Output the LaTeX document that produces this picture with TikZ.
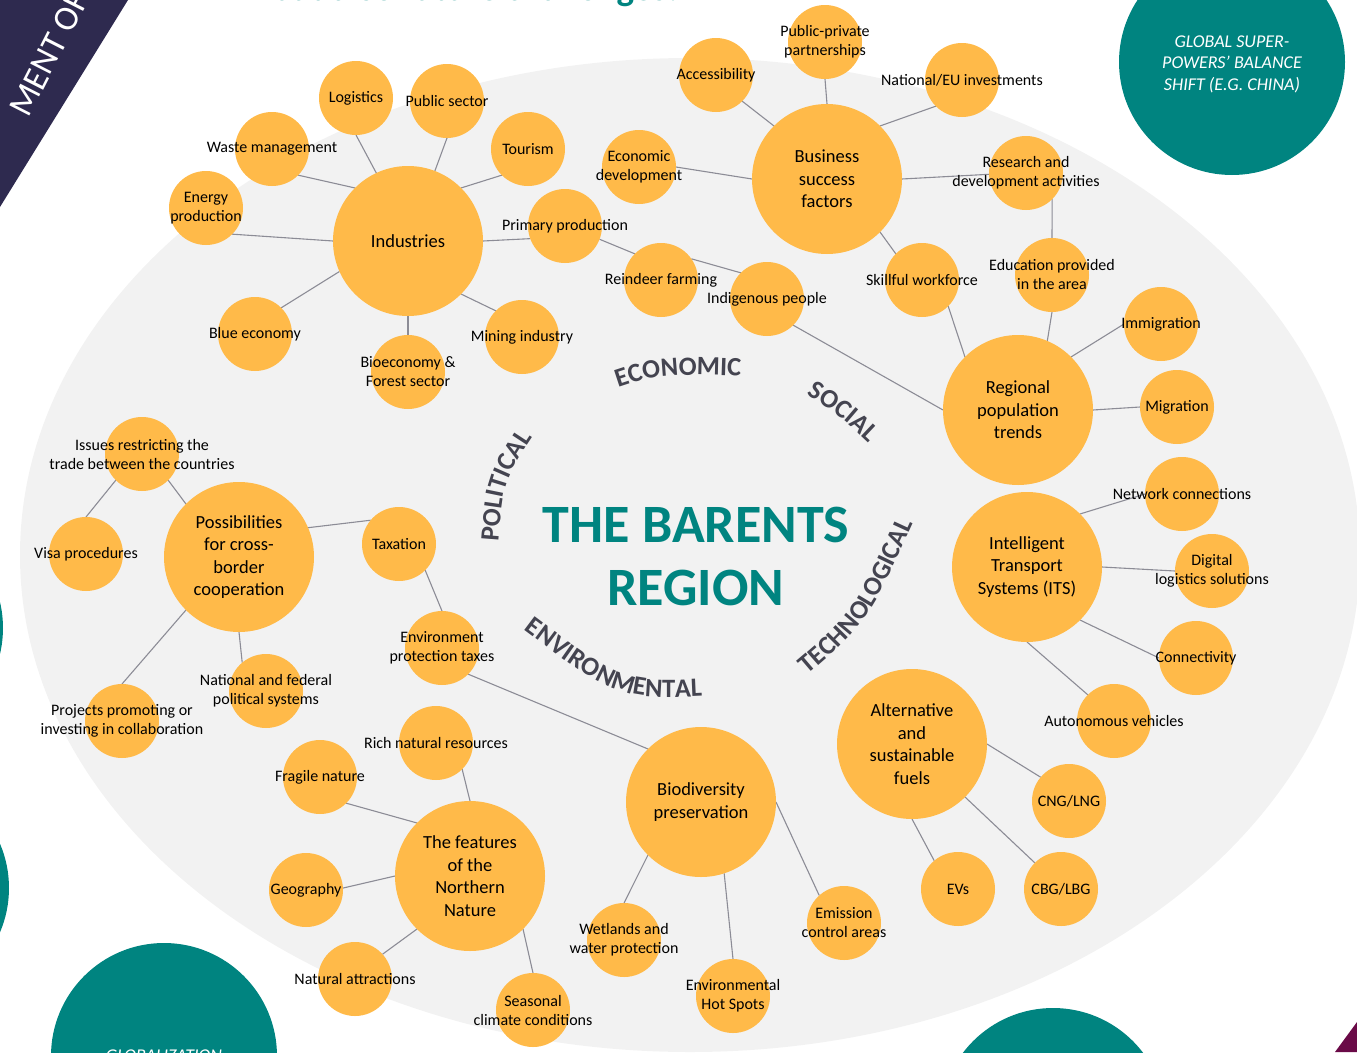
\documentclass[tikz,border=0pt]{standalone}
\usepackage{fontspec}
\setmainfont{Carlito}
\usetikzlibrary{decorations.text}
\definecolor{orng}{RGB}{255,186,73}
\definecolor{teal2}{RGB}{0,132,128}
\definecolor{bgray}{RGB}{242,242,242}
\definecolor{lgray}{RGB}{140,140,150}
\definecolor{navy}{RGB}{46,42,79}
\definecolor{magen}{RGB}{106,10,71}
\definecolor{dimc}{RGB}{68,68,80}
\pgfdeclarelayer{bg}\pgfdeclarelayer{edges}\pgfsetlayers{bg,edges,main}
\newcommand\dimfont{\fontsize{26.5}{26.5}\selectfont\bfseries\color{dimc}}
\tikzset{
 big/.style={circle, fill=orng, minimum size=150pt, inner sep=0pt, outer sep=0pt},
 sm/.style={circle, fill=orng, minimum size=74pt, inner sep=0pt, outer sep=0pt},
 bl/.style={font=\fontsize{18.5}{22.5}\selectfont, align=center, text=black, inner sep=0pt},
 sl/.style={font=\fontsize{16}{19}\selectfont, align=center, text=black, inner sep=0pt},
 link/.style={draw=lgray, line width=1.1pt},
 dimword/.style={decorate, decoration={text along path, text align=center}},
}
\begin{document}
\begin{tikzpicture}[x={(1pt,0)},y={(0,-1pt)}]
\useasboundingbox (0,0) rectangle (1357,1052);
\begin{pgfonlayer}{bg}
\clip (0,0) rectangle (1357,1052);
\fill[bgray] (690,555) ellipse [x radius=670, y radius=497];
\end{pgfonlayer}
\begin{scope}
\clip (0,0) rectangle (1357,1052);
% decorations at the edges
\fill[navy] (0,0) -- (128,0) -- (0,207) -- cycle;
\node[rotate=63, text=white, font=\fontsize{35}{35}\selectfont, inner sep=0pt] (band) at (49,54) {MENT OF};
\node[anchor=base, font=\fontsize{37}{37}\selectfont\bfseries, text=teal2, inner sep=0pt] (toptitle) at (475,1) {but also future challenges!};
\fill[teal2] (1232,62) circle [radius=113];
\node[font=\fontsize{18}{21.5}\selectfont\itshape, text=white, align=center, inner sep=0pt] (glob) at (1232,64) {GLOBAL SUPER-\\POWERS’ BALANCE\\SHIFT (E.G. CHINA)};
\fill[teal2] (-110,628) circle [radius=113];
\fill[teal2] (-104,888) circle [radius=113];
\fill[teal2] (164,1056) circle [radius=113];
\node[anchor=north, font=\fontsize{18}{21.5}\selectfont\itshape, text=white, inner sep=0pt] (globz) at (164,1050) {GLOBALIZATION};
\fill[teal2] (1053,1121) circle [radius=113];
\fill[magen] (1357,1022) -- (1335,1052) -- (1357,1052) -- cycle;

% circles
\node[big] (ind) at (408,241) {};
\node[sm] (log) at (356,98) {};
\node[sm] (pub) at (447,101) {};
\node[sm] (tou) at (528,149) {};
\node[sm] (was) at (272,149) {};
\node[sm] (ene) at (206,208) {};
\node[sm] (pri) at (565,226) {};
\node[sm] (blu) at (255,334) {};
\node[sm] (bio) at (408,372) {};
\node[sm] (min) at (522,337) {};

\node[big] (bus) at (827,179) {};
\node[sm] (acc) at (716,75) {};
\node[sm] (ppp) at (825,42) {};
\node[sm] (nat) at (962,80) {};
\node[sm] (eco) at (639,167) {};
\node[sm] (res) at (1026,173) {};
\node[sm] (ski) at (922,280) {};
\node[sm] (edu) at (1052,275) {};
\node[sm] (rei) at (661,280) {};
\node[sm] (indg) at (767,299) {};

\node[big] (reg) at (1018,410) {};
\node[sm] (imm) at (1161,324) {};
\node[sm] (mig) at (1177,407) {};

\node[big] (its) at (1027,567) {};
\node[sm] (net) at (1182,494) {};
\node[sm] (dig) at (1212,571) {};
\node[sm] (con) at (1196,658) {};
\node[sm] (aut) at (1114,721) {};

\node[big] (alt) at (912,744) {};
\node[sm] (cng) at (1069,801) {};
\node[sm] (evs) at (958,889) {};
\node[sm] (cbg) at (1061,889) {};

\node[big] (bdv) at (701,802) {};
\node[sm] (ept) at (442,648) {};
\node[sm] (tax) at (399,544) {};
\node[sm] (emi) at (844,923) {};
\node[sm] (wet) at (624,940) {};
\node[sm] (ehs) at (733,996) {};

\node[big] (fea) at (470,876) {};
\node[sm] (rich) at (436,743) {};
\node[sm] (fra) at (320,777) {};
\node[sm] (geo) at (306,890) {};
\node[sm] (natt) at (355,979) {};
\node[sm] (sea) at (533,1010) {};

\node[big] (pos) at (239,557) {};
\node[sm] (iss) at (142,454) {};
\node[sm] (visa) at (86,554) {};
\node[sm] (nfp) at (266,691) {};
\node[sm] (proj) at (122,721) {};

% connectors
\begin{pgfonlayer}{edges}
\foreach \a/\b in {ind.115/log.270, ind.69/pub.270, ind.45/tou.225, ind.135/was.315, ind.180/ene.315,
  ind.0/pri.200, ind.204/blu.45, ind.270/bio.90, ind.315/min.135,
  pri.339/rei.135, rei.35/indg.135, indg.315/reg.180,
  bus.135/acc.315, bus.90/ppp.270, bus.45/nat.225, bus.180/eco.0, bus.0/res.182, bus.315/ski.135,
  res.315/edu.90, ski.315/reg.135, edu.270/reg.67,
  reg.45/imm.180, reg.0/mig.180,
  its.45/net.180, its.0/dig.180, its.315/con.180, its.270/aut.135,
  alt.0/cng.140, alt.315/cbg.135, alt.270/evs.130,
  bdv.135/ept.315, bdv.0/emi.132, bdv.225/wet.90, bdv.288/ehs.90,
  ept.90/tax.315, tax.140/pos.23,
  fea.90/rich.315, fea.135/fra.315, fea.180/geo.3, fea.225/natt.42, fea.315/sea.90,
  pos.135/iss.315, iss.225/visa.90, pos.225/proj.90, pos.270/nfp.130}
  {\draw[link] (\a) -- (\b);}
\end{pgfonlayer}

% labels
\node[bl] at (ind) {Industries};
\node[sl] at (log) {Logistics};
\node[sl] at (pub) {Public sector};
\node[sl] at (tou) {Tourism};
\node[sl] at (was) {Waste management};
\node[sl] at (ene) {Energy\\production};
\node[sl] at (pri) {Primary production};
\node[sl] at (blu) {Blue economy};
\node[sl] at (bio) {Bioeconomy \&\\Forest sector};
\node[sl] at (min) {Mining industry};

\node[bl] at (bus) {Business\\success\\factors};
\node[sl] at (acc) {Accessibility};
\node[sl] at (ppp) {Public-private\\partnerships};
\node[sl] at (nat) {National/EU investments};
\node[sl] at (eco) {Economic\\development};
\node[sl] at (res) {Research and\\development activities};
\node[sl] at (ski) {Skillful workforce};
\node[sl] at (edu) {Education provided\\in the area};
\node[sl] at (rei) {Reindeer farming};
\node[sl] at (indg) {Indigenous people};

\node[bl] at (reg) {Regional\\population\\trends};
\node[sl] at (imm) {Immigration};
\node[sl] at (mig) {Migration};

\node[bl] at (its) {Intelligent\\Transport\\Systems (ITS)};
\node[sl] at (net) {Network connections};
\node[sl] at (dig) {Digital\\logistics solutions};
\node[sl] at (con) {Connectivity};
\node[sl] at (aut) {Autonomous vehicles};

\node[bl] at (alt) {Alternative\\and\\sustainable\\fuels};
\node[sl] at (cng) {CNG/LNG};
\node[sl] at (evs) {EVs};
\node[sl] at (cbg) {CBG/LBG};

\node[bl] at (bdv) {Biodiversity\\preservation};
\node[sl] at (ept) {Environment\\protection taxes};
\node[sl] at (tax) {Taxation};
\node[sl] at (emi) {Emission\\control areas};
\node[sl] at (wet) {Wetlands and\\water protection};
\node[sl] at (ehs) {Environmental\\Hot Spots};

\node[bl] at (fea) {The features\\of the\\Northern\\Nature};
\node[sl] at (rich) {Rich natural resources};
\node[sl] at (fra) {Fragile nature};
\node[sl] at (geo) {Geography};
\node[sl] at (natt) {Natural attractions};
\node[sl] at (sea) {Seasonal\\climate conditions};

\node[bl] at (pos) {Possibilities\\for cross-\\border\\cooperation};
\node[sl] at (iss) {Issues restricting the\\trade between the countries};
\node[sl] at (visa) {Visa procedures};
\node[sl] at (nfp) {National and federal\\political systems};
\node[sl] at (proj) {Projects promoting or\\investing in collaboration};

% centre
\node[font=\fontsize{54}{63}\selectfont\bfseries, text=teal2, align=center, inner sep=0pt] (title) at (696,556) {THE BARENTS\\REGION};
\path[dimword, decoration={text={|\dimfont|ECONOMIC}}] (600,394) .. controls (660,373) .. (760,377);
\path[dimword, decoration={text={|\dimfont|SOCIAL}}] (795,388) .. controls (838,414) .. (878,452);
\path[dimword, decoration={text={|\dimfont|POLITICAL}}] (498,548) .. controls (503,482) .. (536,432);
\path[dimword, decoration={text={|\dimfont|TECHNOLOGICAL}}] (792,688) .. controls (867,625) .. (922,505);
\path[dimword, decoration={text={|\dimfont|ENVIRONMENTAL}}] (508,618) .. controls (617.5,700.5) .. (722,695);
\end{scope}
\end{tikzpicture}
\end{document}
